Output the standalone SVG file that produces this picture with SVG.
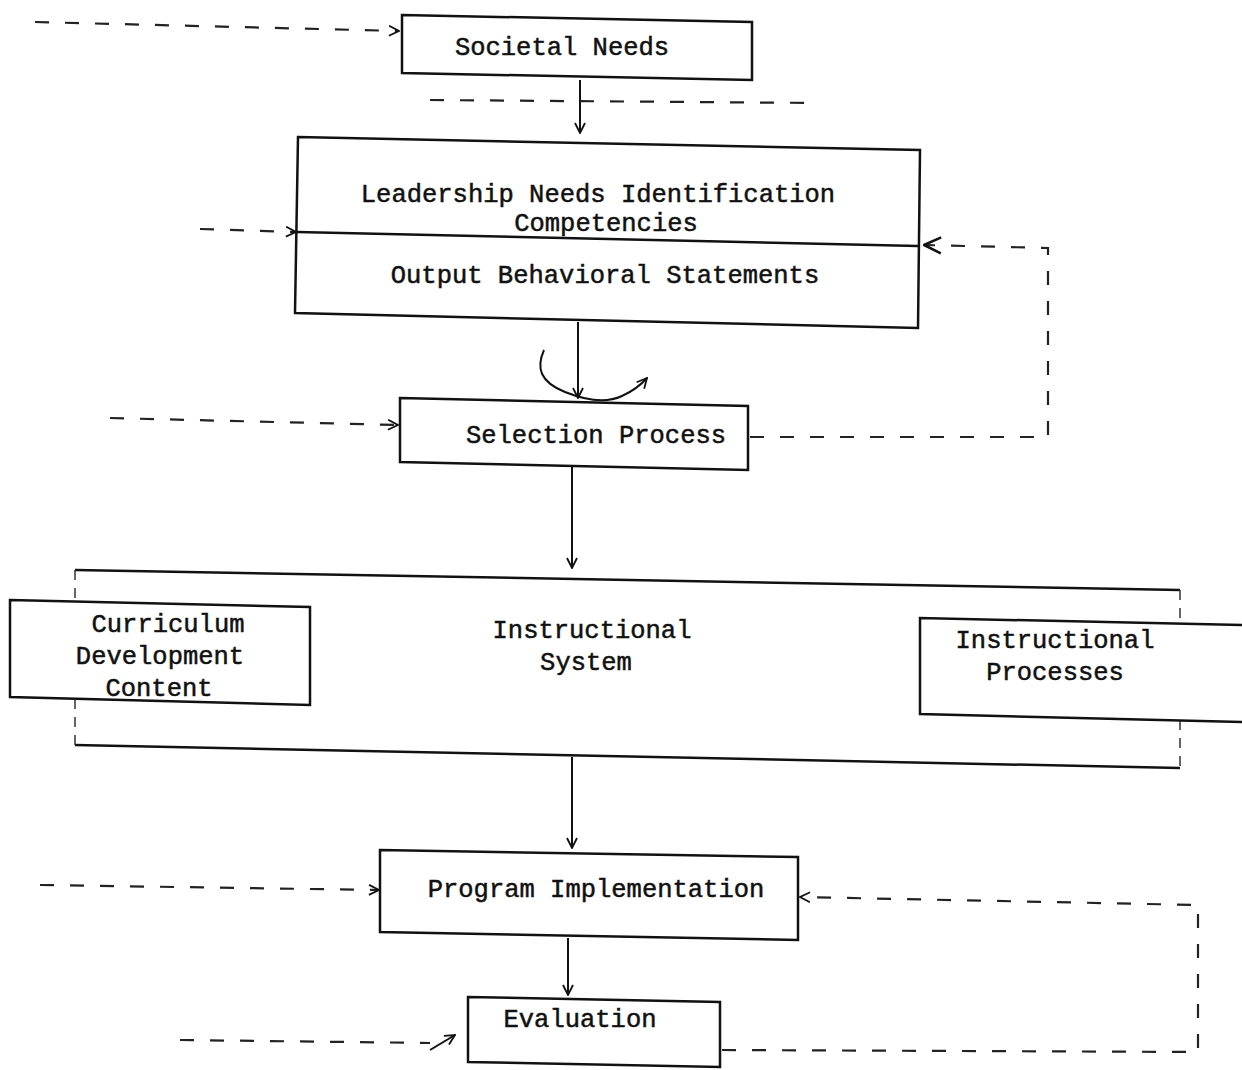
<svg xmlns="http://www.w3.org/2000/svg" width="1242" height="1070" viewBox="0 0 1242 1070">
  <style>
    .box { fill: none; stroke: #111; stroke-width: 2.5; stroke-linejoin: miter; }
    .faint { fill: none; stroke: #333; stroke-width: 1.5; stroke-dasharray: 10 8; }
    .t { font-family: "Liberation Mono", "DejaVu Sans Mono", monospace; font-size: 25.5px; fill: #111; stroke: #111; stroke-width: 0.5; text-anchor: middle; }
    .flow { fill: none; stroke: #111; stroke-width: 2; }
    .dash { fill: none; stroke: #222; stroke-width: 2.2; stroke-dasharray: 14 16; }
  </style>
  <defs>
    <marker id="v" viewBox="0 0 12 12" refX="11" refY="6" markerWidth="12" markerHeight="12" markerUnits="userSpaceOnUse" orient="auto">
      <path d="M1,1 L11,6 L1,11" fill="none" stroke="#111" stroke-width="1.8"/>
    </marker>
    <marker id="big" viewBox="0 0 20 20" refX="19" refY="10" markerWidth="20" markerHeight="20" markerUnits="userSpaceOnUse" orient="auto">
      <path d="M2,2 L19,10 L2,18" fill="none" stroke="#111" stroke-width="2.6"/>
    </marker>
  </defs>
  <rect width="1242" height="1070" fill="#fff"/>

  <g id="connectors">
    <line class="flow" x1="580" y1="80" x2="580" y2="133" marker-end="url(#v)"/>
    <line class="flow" x1="578" y1="322" x2="578" y2="398" marker-end="url(#v)"/>
    <path class="flow" stroke-width="3" d="M544,350 C536,368 540,382 565,392 C585,400 605,404 622,396 C633,391 640,386 647,378" marker-end="url(#v)"/>
    <line class="flow" x1="572" y1="466" x2="572" y2="568" marker-end="url(#v)"/>
    <line class="flow" x1="572" y1="757" x2="572" y2="848" marker-end="url(#v)"/>
    <line class="flow" x1="568" y1="938" x2="568" y2="995" marker-end="url(#v)"/>

    <line class="dash" x1="35" y1="22" x2="399" y2="31" marker-end="url(#v)"/>
    <line class="dash" x1="430" y1="100" x2="820" y2="103" stroke-width="1.5"/>
    <line class="dash" x1="200" y1="229" x2="296" y2="232" marker-end="url(#v)"/>
    <line class="dash" x1="110" y1="418" x2="398" y2="425" marker-end="url(#v)"/>
    <path class="dash" d="M750,437 L1048,437 L1048,248 L924,245" marker-end="url(#big)"/>
    <line class="dash" x1="40" y1="885" x2="379" y2="890" marker-end="url(#v)"/>
    <path class="dash" d="M722,1050 L1198,1052 L1198,905 L800,897" marker-end="url(#v)"/>
    <line class="dash" x1="180" y1="1040" x2="430" y2="1043"/>
    <line class="flow" x1="430" y1="1050" x2="455" y2="1035" marker-end="url(#v)"/>
  </g>

  <g id="societal-needs">
    <path class="box" d="M402,15 L752,22 L752,80 L402,73 Z"/>
    <text class="t" x="562" y="55">Societal Needs</text>
  </g>

  <g id="leadership-needs">
    <path class="box" d="M298,137 L920,150 L918,328 L295,313 Z"/>
    <line class="box" x1="297" y1="232" x2="918" y2="246"/>
    <text class="t" x="598" y="202">Leadership Needs Identification</text>
    <text class="t" x="606" y="231">Competencies</text>
    <text class="t" x="605" y="283">Output Behavioral Statements</text>
  </g>

  <g id="selection-process">
    <path class="box" d="M400,398 L748,406 L748,470 L400,462 Z"/>
    <text class="t" x="596" y="443">Selection Process</text>
  </g>

  <g id="instructional-system">
    <line class="box" x1="75" y1="570" x2="1180" y2="590"/>
    <line class="box" x1="75" y1="745" x2="1180" y2="768"/>
    <line class="faint" x1="75" y1="570" x2="75" y2="601"/>
    <line class="faint" x1="75" y1="699" x2="75" y2="745"/>
    <line class="faint" x1="1180" y1="590" x2="1180" y2="620"/>
    <line class="faint" x1="1180" y1="720" x2="1180" y2="768"/>
    <text class="t" x="592" y="638">Instructional</text>
    <text class="t" x="586" y="670">System</text>
  </g>

  <g id="curriculum-development">
    <path class="box" d="M10,600 L310,607 L310,705 L10,697 Z" fill="#fff"/>
    <text class="t" x="168" y="632">Curriculum</text>
    <text class="t" x="160" y="664">Development</text>
    <text class="t" x="159" y="696">Content</text>
  </g>

  <g id="instructional-processes">
    <path class="box" d="M1242,625 L920,618 L920,714 L1242,722"/>
    <text class="t" x="1055" y="648">Instructional</text>
    <text class="t" x="1055" y="680">Processes</text>
  </g>

  <g id="program-implementation">
    <path class="box" d="M380,850 L798,857 L798,940 L380,932 Z"/>
    <text class="t" x="596" y="897">Program Implementation</text>
  </g>

  <g id="evaluation">
    <path class="box" d="M468,997 L720,1002 L720,1067 L468,1062 Z"/>
    <text class="t" x="580" y="1027">Evaluation</text>
  </g>
</svg>
